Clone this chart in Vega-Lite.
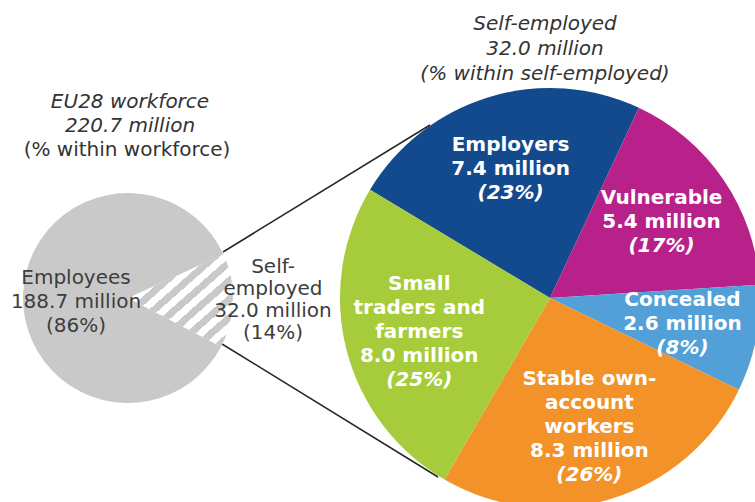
{
  "$schema": "https://vega.github.io/schema/vega-lite/v6.json",
  "width": 755,
  "height": 502,
  "padding": 0,
  "autosize": {"type": "none"},
  "background": "#ffffff",
  "config": {"view": {"stroke": null}, "axis": {"disable": true}, "font": "DejaVu Sans", "text": {"font": "DejaVu Sans"}},
  "datasets": {
    "workforce": [
      {"group": "Self-employed", "label": "Self-\nemployed", "million": 32.0, "share": 14, "order": 1},
      {"group": "Employees", "label": "Employees", "million": 188.7, "share": 86, "order": 2}
    ],
    "selfemployed": [
      {"segment": "Employers", "label": "Employers", "million": 7.4, "share": 23, "order": 1},
      {"segment": "Vulnerable", "label": "Vulnerable", "million": 5.4, "share": 17, "order": 2},
      {"segment": "Concealed", "label": "Concealed", "million": 2.6, "share": 8, "order": 3},
      {"segment": "Stable own-account workers", "label": "Stable own-\naccount\nworkers", "million": 8.3, "share": 26, "order": 4},
      {"segment": "Small traders and farmers", "label": "Small\ntraders and\nfarmers", "million": 8.0, "share": 25, "order": 5}
    ]
  },
  "resolve": {"scale": {"theta": "independent", "color": "independent"}},
  "layer": [
    {
      "data": {"values": [{}]},
      "mark": {"type": "rule", "stroke": "#262626", "strokeWidth": 1.5},
      "encoding": {
        "x": {"datum": 223, "type": "quantitative", "scale": {"domain": [0, 755], "nice": false, "zero": false}, "axis": null},
        "y": {"datum": 252, "type": "quantitative", "scale": {"domain": [0, 502], "nice": false, "zero": false, "reverse": true}, "axis": null},
        "x2": {"datum": 430},
        "y2": {"datum": 125}
      }
    },
    {
      "data": {"values": [{}]},
      "mark": {"type": "rule", "stroke": "#262626", "strokeWidth": 1.5},
      "encoding": {
        "x": {"datum": 222, "type": "quantitative", "axis": null},
        "y": {"datum": 344, "type": "quantitative", "axis": null},
        "x2": {"datum": 438},
        "y2": {"datum": 477}
      }
    },
    {
      "data": {"name": "workforce"},
      "layer": [
        {
          "mark": {"type": "arc", "outerRadius": 105, "stroke": null},
          "encoding": {
            "theta": {"field": "million", "type": "quantitative", "stack": true, "scale": {"range": [1.1414, 7.4246]}},
            "order": {"field": "order", "type": "quantitative"},
            "detail": {"field": "group", "type": "nominal"},
            "fill": {
              "condition": {
                "test": "datum.group === 'Self-employed'",
                "value": {
                  "gradient": "linear", "x1": 0, "y1": 0, "x2": 1, "y2": 1,
                  "stops": [
                    {"offset": 0, "color": "#c9c9c9"}, {"offset": 0.05, "color": "#c9c9c9"}, {"offset": 0.05, "color": "#ffffff"}, {"offset": 0.1, "color": "#ffffff"},
                    {"offset": 0.1, "color": "#c9c9c9"}, {"offset": 0.15, "color": "#c9c9c9"}, {"offset": 0.15, "color": "#ffffff"}, {"offset": 0.2, "color": "#ffffff"},
                    {"offset": 0.2, "color": "#c9c9c9"}, {"offset": 0.25, "color": "#c9c9c9"}, {"offset": 0.25, "color": "#ffffff"}, {"offset": 0.3, "color": "#ffffff"},
                    {"offset": 0.3, "color": "#c9c9c9"}, {"offset": 0.35, "color": "#c9c9c9"}, {"offset": 0.35, "color": "#ffffff"}, {"offset": 0.4, "color": "#ffffff"},
                    {"offset": 0.4, "color": "#c9c9c9"}, {"offset": 0.45, "color": "#c9c9c9"}, {"offset": 0.45, "color": "#ffffff"}, {"offset": 0.5, "color": "#ffffff"},
                    {"offset": 0.5, "color": "#c9c9c9"}, {"offset": 0.55, "color": "#c9c9c9"}, {"offset": 0.55, "color": "#ffffff"}, {"offset": 0.6, "color": "#ffffff"},
                    {"offset": 0.6, "color": "#c9c9c9"}, {"offset": 0.65, "color": "#c9c9c9"}, {"offset": 0.65, "color": "#ffffff"}, {"offset": 0.7, "color": "#ffffff"},
                    {"offset": 0.7, "color": "#c9c9c9"}, {"offset": 0.75, "color": "#c9c9c9"}, {"offset": 0.75, "color": "#ffffff"}, {"offset": 0.8, "color": "#ffffff"},
                    {"offset": 0.8, "color": "#c9c9c9"}, {"offset": 0.85, "color": "#c9c9c9"}, {"offset": 0.85, "color": "#ffffff"}, {"offset": 0.9, "color": "#ffffff"},
                    {"offset": 0.9, "color": "#c9c9c9"}, {"offset": 0.95, "color": "#c9c9c9"}, {"offset": 0.95, "color": "#ffffff"}, {"offset": 1, "color": "#ffffff"}
                  ]
                }
              },
              "value": "#c9c9c9"
            },
            "x": {"datum": 128, "type": "quantitative", "axis": null},
            "y": {"datum": 298, "type": "quantitative", "axis": null}
          }
        },
        {
          "transform": [{"filter": "datum.group === 'Employees'"}],
          "mark": {"type": "text", "fontSize": 20, "lineHeight": 24, "lineBreak": "\n", "align": "center", "baseline": "middle", "fill": "#3d3d3d",
                   "text": {"expr": "datum.label + '\\n' + format(datum.million, '.1f') + ' million\\n(' + datum.share + '%)'"}},
          "encoding": {
            "x": {"datum": 76, "type": "quantitative", "axis": null},
            "y": {"datum": 278, "type": "quantitative", "axis": null}
          }
        },
        {
          "transform": [{"filter": "datum.group === 'Self-employed'"}],
          "mark": {"type": "text", "fontSize": 20, "lineHeight": 22, "lineBreak": "\n", "align": "center", "baseline": "middle", "fill": "#3d3d3d",
                   "text": {"expr": "datum.label + '\\n' + format(datum.million, '.1f') + ' million\\n(' + datum.share + '%)'"}},
          "encoding": {
            "x": {"datum": 273, "type": "quantitative", "axis": null},
            "y": {"datum": 267, "type": "quantitative", "axis": null}
          }
        }
      ]
    },
    {
      "data": {"name": "selfemployed"},
      "layer": [
        {
          "mark": {"type": "arc", "outerRadius": 210, "stroke": null},
          "encoding": {
            "theta": {"field": "million", "type": "quantitative", "stack": true, "scale": {"range": [-1.0297, 5.2535]}},
            "order": {"field": "order", "type": "quantitative"},
            "color": {"field": "segment", "type": "nominal", "legend": null,
                      "scale": {"domain": ["Employers", "Vulnerable", "Concealed", "Stable own-account workers", "Small traders and farmers"],
                                "range": ["#134a8e", "#b8218a", "#539fd7", "#f29229", "#a6cb3b"]}},
            "x": {"datum": 550, "type": "quantitative", "axis": null},
            "y": {"datum": 298, "type": "quantitative", "axis": null}
          }
        },
        {
          "mark": {"type": "text", "radius": 135, "fontSize": 20, "fontWeight": "bold", "lineHeight": 24, "lineBreak": "\n", "fill": "#ffffff", "align": "center", "baseline": "middle",
                   "dy": {"expr": "-12 * (length(split(datum.label, '\\n')) + 1)"},
                   "text": {"expr": "datum.label + '\\n' + format(datum.million, '.1f') + ' million'"}},
          "encoding": {
            "theta": {"field": "million", "type": "quantitative", "stack": true},
            "order": {"field": "order", "type": "quantitative"},
            "detail": {"field": "segment", "type": "nominal"},
            "x": {"datum": 550, "type": "quantitative", "axis": null},
            "y": {"datum": 298, "type": "quantitative", "axis": null}
          }
        },
        {
          "mark": {"type": "text", "radius": 135, "fontSize": 20, "fontWeight": "bold", "fontStyle": "italic", "lineHeight": 24, "fill": "#ffffff", "align": "center", "baseline": "middle",
                   "dy": {"expr": "12 * (length(split(datum.label, '\\n')) + 1)"},
                   "text": {"expr": "'(' + datum.share + '%)'"}},
          "encoding": {
            "theta": {"field": "million", "type": "quantitative", "stack": true},
            "order": {"field": "order", "type": "quantitative"},
            "detail": {"field": "segment", "type": "nominal"},
            "x": {"datum": 550, "type": "quantitative", "axis": null},
            "y": {"datum": 298, "type": "quantitative", "axis": null}
          }
        }
      ]
    },
    {
      "data": {"values": [{}]},
      "mark": {"type": "text", "text": ["Self-employed", "32.0 million", "(% within self-employed)"], "fontSize": 20, "fontStyle": "italic", "lineHeight": 25, "fill": "#333333", "align": "center", "baseline": "middle"},
      "encoding": {
        "x": {"datum": 545, "type": "quantitative", "axis": null},
        "y": {"datum": 24, "type": "quantitative", "axis": null}
      }
    },
    {
      "data": {"values": [{}]},
      "mark": {"type": "text", "text": ["EU28 workforce", "220.7 million"], "fontSize": 20, "fontStyle": "italic", "lineHeight": 24, "fill": "#333333", "align": "center", "baseline": "middle"},
      "encoding": {
        "x": {"datum": 130, "type": "quantitative", "axis": null},
        "y": {"datum": 102, "type": "quantitative", "axis": null}
      }
    },
    {
      "data": {"values": [{}]},
      "mark": {"type": "text", "text": "(% within workforce)", "fontSize": 20, "lineHeight": 24, "fill": "#333333", "align": "center", "baseline": "middle"},
      "encoding": {
        "x": {"datum": 127, "type": "quantitative", "axis": null},
        "y": {"datum": 150, "type": "quantitative", "axis": null}
      }
    }
  ]
}
